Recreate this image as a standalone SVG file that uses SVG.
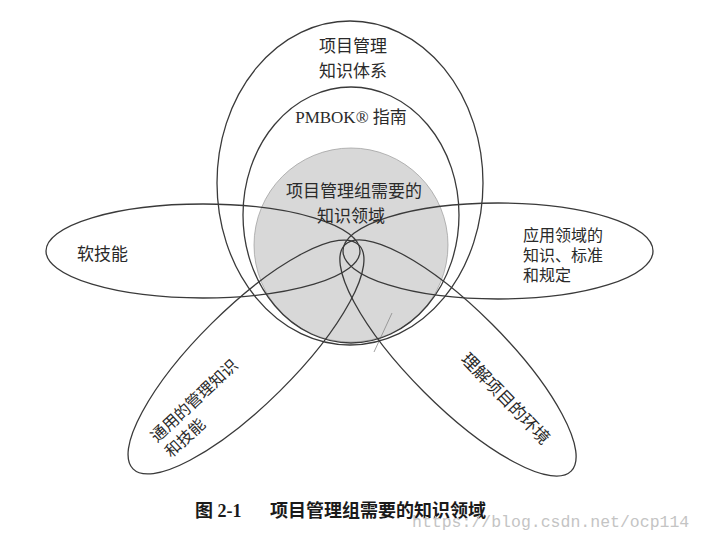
<svg xmlns="http://www.w3.org/2000/svg" width="703" height="547" viewBox="0 0 703 547">
<style>
.e{fill:none;stroke:#3a3a3a;stroke-width:1.3}
.t{font-family:"Noto Sans CJK SC","Liberation Sans",sans-serif;font-size:17px;fill:#2a2a2a}
.m{font-family:"Noto Sans CJK SC","Liberation Sans",sans-serif;font-size:16px;fill:#2a2a2a}
.s{font-family:"Liberation Serif","Noto Sans CJK SC",serif;font-size:17px;fill:#2a2a2a}
.cap{font-family:"Liberation Serif","Noto Sans CJK SC",serif;font-size:18px;fill:#1a1a1a;font-weight:bold}
.wm{font-family:"Liberation Mono",monospace;font-size:16.5px;fill:#c4c4c4}
</style>
<rect width="703" height="547" fill="#ffffff"/>
<g id="core">
<circle cx="351" cy="245" r="97" fill="#d8d8d8" stroke="#9a9a9a" stroke-width="0.7"/>
</g>
<g id="connectors">
<line x1="392" y1="313" x2="374" y2="352" stroke="#888" stroke-width="0.8"/>
</g>
<g id="pmkb">
<ellipse class="e" cx="350" cy="183" rx="133" ry="162"/>
<text class="t" x="353" y="52" text-anchor="middle">项目管理</text>
<text class="t" x="353" y="77" text-anchor="middle">知识体系</text>
</g>
<g id="pmbok">
<ellipse class="e" cx="351" cy="215" rx="108" ry="128"/>
<text class="s" x="351" y="123" text-anchor="middle">PMBOK® <tspan font-family="Noto Sans CJK SC">指南</tspan></text>
</g>
<g id="soft">
<ellipse class="e" cx="203" cy="251" rx="157" ry="47"/>
<text class="t" x="77" y="260">软技能</text>
</g>
<g id="app">
<ellipse class="e" cx="498" cy="251" rx="155" ry="48"/>
<text class="m" x="523" y="241">应用领域的</text>
<text class="m" x="523" y="261">知识、标准</text>
<text class="m" x="523" y="281">和规定</text>
</g>
<g id="general">
<ellipse class="e" cx="246" cy="357" rx="159" ry="48" transform="rotate(-44.7 246 357)"/>
<g transform="translate(157 443) rotate(-43)">
<text class="m" x="0" y="0">通用的管理知识</text>
<text class="m" x="0" y="21">和技能</text>
</g>
</g>
<g id="env">
<ellipse class="e" cx="458" cy="358" rx="160" ry="48" transform="rotate(45 458 358)"/>
<text class="t" transform="translate(460 360) rotate(46)">理解项目的环境</text>
</g>
<g id="label">
<text class="t" x="354" y="197" text-anchor="middle">项目管理组需要的</text>
<text class="t" x="351" y="222" text-anchor="middle">知识领域</text>
</g>
<text class="cap" x="195" y="517">图 2-1<tspan x="270" font-family="Noto Sans CJK SC">项目管理组需要的知识领域</tspan></text>
<text class="wm" x="412" y="527">https://blog.csdn.net/ocp114</text>
</svg>
